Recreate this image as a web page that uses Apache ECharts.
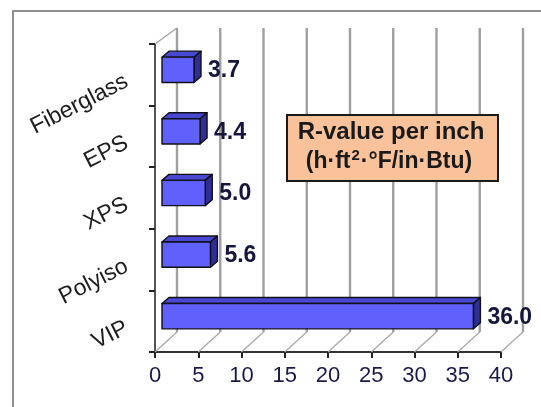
<!DOCTYPE html>
<html>
<head>
<meta charset="utf-8">
<script src="https://cdn.jsdelivr.net/npm/echarts@6/dist/echarts.min.js"></script>
<style>
  html, body { margin: 0; padding: 0; background: #ffffff; }
  #chart { width: 541px; height: 407px; }
</style>
</head>
<body>
<div id="chart"></div>
<script>
// Insulation materials and their R-value per inch
const categories = ['Fiberglass', 'EPS', 'XPS', 'Polyiso', 'VIP'];
const rValues = [3.7, 4.4, 5.0, 5.6, 36.0];
const xTicks = [0, 5, 10, 15, 20, 25, 30, 35, 40];
const boxLine1 = 'R-value per inch';
const boxUnitA = '(h·ft';
const boxUnitSup = '2';
const boxUnitB = '·°F/in·Btu)';

const FONT = '"Liberation Sans", Arial, Helvetica, sans-serif';

// 3-D depth offsets (pixels) for the walls and the bars
const WALL_DX = 22, WALL_DY_TOP = -16, WALL_DY_BOT = -20;
const BAR_DX = 7, BAR_DY = -5;       // bar front face sits a little into the depth
const BAR_DEPTH_X = 7, BAR_DEPTH_Y = -6;

const chart = echarts.init(document.getElementById('chart'), null, { renderer: 'canvas' });

// Back wall gridlines and floor diagonals, one per x tick
function renderWall(params, api) {
  const v = api.value(0);
  const cs = params.coordSys;
  const x = api.coord([v, 0])[0];
  const top = cs.y, bottom = cs.y + cs.height;
  const children = [
    { type: 'line', shape: { x1: x + WALL_DX, y1: top + WALL_DY_TOP, x2: x + WALL_DX, y2: bottom + WALL_DY_BOT },
      style: { stroke: '#a0a0a0', lineWidth: 2.4 } },
    { type: 'line', shape: { x1: x, y1: bottom, x2: x + WALL_DX, y2: bottom + WALL_DY_BOT },
      style: { stroke: '#a8a8a8', lineWidth: 1.3 } }
  ];
  if (v === xTicks[0]) {
    children.push({ type: 'line', shape: { x1: x, y1: top, x2: x + WALL_DX, y2: top + WALL_DY_TOP },
      style: { stroke: '#a0a0a0', lineWidth: 1.3 } });
  }
  return { type: 'group', children };
}

// Extruded horizontal bar with its value label
function renderBar(params, api) {
  const cat = api.value(0);
  const v = api.value(1);
  const p0 = api.coord([0, cat]);
  const p1 = api.coord([v, cat]);
  const band = api.size([0, 1])[1];
  const h = band * 0.41;
  const x0 = p0[0] + BAR_DX, x1 = p1[0] + BAR_DX;
  const yc = p0[1] + BAR_DY;
  const yt = yc - h / 2, yb = yc + h / 2;
  const dx = BAR_DEPTH_X, dy = BAR_DEPTH_Y;
  const edge = { stroke: '#101018', lineWidth: 1.4, lineJoin: 'round' };
  return {
    type: 'group',
    children: [
      { type: 'polygon', shape: { points: [[x0, yt], [x0 + dx, yt + dy], [x1 + dx, yt + dy], [x1, yt]] },
        style: Object.assign({ fill: '#4848d2' }, edge) },
      { type: 'polygon', shape: { points: [[x1, yt], [x1 + dx, yt + dy], [x1 + dx, yb + dy], [x1, yb]] },
        style: Object.assign({ fill: '#2e2e96' }, edge) },
      { type: 'rect', shape: { x: x0, y: yt, width: x1 - x0, height: h },
        style: Object.assign({ fill: '#6060fc' }, edge) },
      { type: 'text', x: x1 + dx + 7, y: yc + 1,
        style: { text: v.toFixed(1), fill: '#16163c', font: 'bold 23px ' + FONT,
                 align: 'left', verticalAlign: 'middle' } }
    ]
  };
}

const option = {
  animation: false,
  backgroundColor: '#ffffff',
  grid: { left: 155, right: 40, top: 44, bottom: 55, containLabel: false },
  xAxis: {
    type: 'value', min: 0, max: 40, interval: 5,
    axisLine: { show: true, lineStyle: { color: '#333333', width: 2 } },
    axisTick: { show: true, inside: false, length: 6, lineStyle: { color: '#222222', width: 2 } },
    axisLabel: { margin: 13, fontSize: 22, fontFamily: FONT, color: '#1a1a48',
                 formatter: v => xTicks.includes(v) ? String(v) : '' },
    splitLine: { show: false }
  },
  yAxis: {
    type: 'category', inverse: true, data: categories,
    axisLine: { show: true, lineStyle: { color: '#555555', width: 2 } },
    axisTick: { show: true, inside: false, length: 6, lineStyle: { color: '#222222', width: 2 } },
    axisLabel: { interval: 0, rotate: 27, margin: 31, fontSize: 23, fontFamily: FONT, color: '#1e1e1e',
                 verticalAlign: 'top', lineHeight: 12 },
    splitLine: { show: false }
  },
  series: [
    {
      type: 'custom', name: 'walls', z: 1, silent: true,
      renderItem: renderWall,
      encode: { x: 0, y: 1 },
      data: xTicks.map(v => [v, 0])
    },
    {
      type: 'custom', name: 'R-value', z: 3,
      renderItem: renderBar,
      encode: { y: 0, x: 1 },
      data: categories.map((c, i) => [i, rValues[i]])
    }
  ],
  graphic: [
    { type: 'rect', silent: true, z: 0,
      shape: { x: 13, y: 11, width: 640, height: 520 },
      style: { fill: null, stroke: '#8e8e8e', lineWidth: 2 } },
    { type: 'rect', z: 100,
      shape: { x: 287, y: 115, width: 211, height: 66 },
      style: { fill: '#f9c29b', stroke: '#1a1a1a', lineWidth: 2 } },
    { type: 'text', z: 101, x: 391, y: 132,
      style: { text: boxLine1, font: 'bold 24px ' + FONT, fill: '#1a1a1a',
               align: 'center', verticalAlign: 'middle' } },
    { type: 'text', z: 101, x: 389, y: 162,
      style: {
        text: '{u|' + boxUnitA + '}{s|' + boxUnitSup + '}{u|' + boxUnitB + '}',
        align: 'center', verticalAlign: 'middle',
        rich: {
          u: { font: 'bold 23px ' + FONT, fill: '#1a1a1a', lineHeight: 26 },
          s: { font: 'bold 15px ' + FONT, fill: '#1a1a1a', lineHeight: 14, padding: [0, 1, 12, 1] }
        }
      } }
  ]
};

chart.setOption(option);
</script>
</body>
</html>
